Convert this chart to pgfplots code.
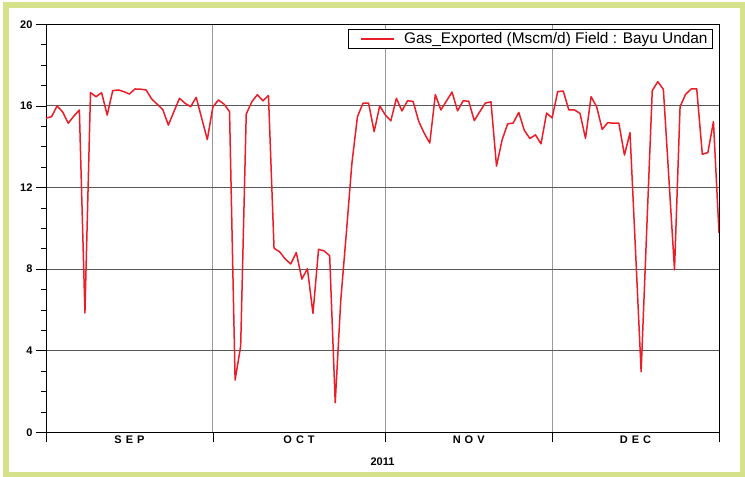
\documentclass[border=0pt]{standalone}
\usepackage{pgfplots}
\pgfplotsset{compat=1.18}
\usepackage{fontspec}
\setmainfont{Liberation Sans}
\definecolor{frameg}{RGB}{213,226,139}
\definecolor{linered}{RGB}{234,30,40}
\begin{document}
\begin{tikzpicture}[x=1pt,y=1pt]
\useasboundingbox (0,0) rectangle (745,477);
\fill[white] (0,0) rectangle (745,477);
\draw[frameg, line width=5.5pt] (6,2.5) rectangle (742.5,472);
\begin{axis}[
  at={(46pt,44.7pt)}, anchor=south west,
  scale only axis, width=673pt, height=408pt,
  xmin=0, xmax=121, ymin=0, ymax=20,
  axis line style={black, line width=0.9pt},
  xtick={0,30,61,91,121}, xticklabels={},
  ytick={0,4,8,12,16,20}, minor y tick num=3,
  xtick pos=bottom, ytick pos=left,
  tick align=outside,
  major tick length=10pt, minor tick length=5pt,
  tick style={black, line width=0.6pt},
  xmajorgrids, ymajorgrids,
  x grid style={color=black!40, line width=0.8pt},
  y grid style={color=black!65, line width=0.9pt},
  /pgf/number format/assume math mode=true,
  yticklabel style={font=\bfseries\fontsize{11}{13}\selectfont},
  extra x ticks={15,45.5,76,106},
  extra x tick labels={S\hspace{4pt}E\hspace{4pt}P, O\hspace{4pt}C\hspace{4pt}T, N\hspace{4pt}O\hspace{4pt}V, D\hspace{4pt}E\hspace{4pt}C},
  extra x tick style={major tick length=0pt, grid=none,
     xticklabel style={font=\bfseries\fontsize{11}{13}\selectfont}},
  xlabel={2011},
  xlabel style={font=\bfseries\fontsize{11}{13}\selectfont, yshift=5pt},
  legend style={at={(1,1)}, anchor=north east, xshift=-6pt, yshift=-5pt,
     draw=black, line width=0.8pt, font=\fontsize{15.4}{17}\selectfont,
     inner ysep=1pt},
  legend cell align=left,
  legend image code/.code={\path (-9pt,0pt) (40pt,0pt);\draw[#1] (0pt,0pt) -- (33pt,0pt);},
]
\addplot[linered, line width=1.5pt, line join=round] coordinates {
(0,15.40) (1,15.47) (2,16.00) (3,15.70) (4,15.15) (5,15.50) (6,15.80) (7,5.85)
(8,16.65) (9,16.45) (10,16.65) (11,15.55) (12,16.75) (13,16.78) (14,16.70) (15,16.58)
(16,16.83) (17,16.82) (18,16.78) (19,16.34) (20,16.08) (21,15.82) (22,15.06) (23,15.72)
(24,16.37) (25,16.13) (26,15.96) (27,16.42) (28,15.39) (29,14.35)
(30,15.95) (31,16.29) (32,16.09) (33,15.72) (34,2.56) (35,4.22) (36,15.60) (37,16.20)
(38,16.55) (39,16.25) (40,16.51) (41,9.02) (42,8.85) (43,8.50) (44,8.25) (45,8.81)
(46,7.51) (47,8.02) (48,5.83) (49,8.97) (50,8.89) (51,8.66) (52,1.45) (53,6.49)
(54,9.77) (55,13.19) (56,15.48) (57,16.13) (58,16.13) (59,14.74) (60,16.00)
(61,15.56) (62,15.27) (63,16.37) (64,15.75) (65,16.25) (66,16.22) (67,15.25) (68,14.66)
(69,14.18) (70,16.55) (71,15.80) (72,16.24) (73,16.68) (74,15.76) (75,16.25) (76,16.23)
(77,15.28) (78,15.72) (79,16.14) (80,16.20) (81,13.05) (82,14.33) (83,15.12) (84,15.16)
(85,15.68) (86,14.80) (87,14.40) (88,14.58) (89,14.14) (90,15.65)
(91,15.41) (92,16.70) (93,16.73) (94,15.80) (95,15.80) (96,15.64) (97,14.41) (98,16.45)
(99,15.96) (100,14.85) (101,15.18) (102,15.15) (103,15.15) (104,13.59) (105,14.69) (106,8.85)
(107,2.97) (108,9.90) (109,16.75) (110,17.19) (111,16.81) (112,12.40) (113,7.96) (114,15.96)
(115,16.57) (116,16.83) (117,16.83) (118,13.63) (119,13.71) (120,15.23) (121,9.78)
};
\addlegendentry{Gas\_Exported (Mscm/d) Field : Bayu Undan}
\end{axis}
\end{tikzpicture}
\end{document}
